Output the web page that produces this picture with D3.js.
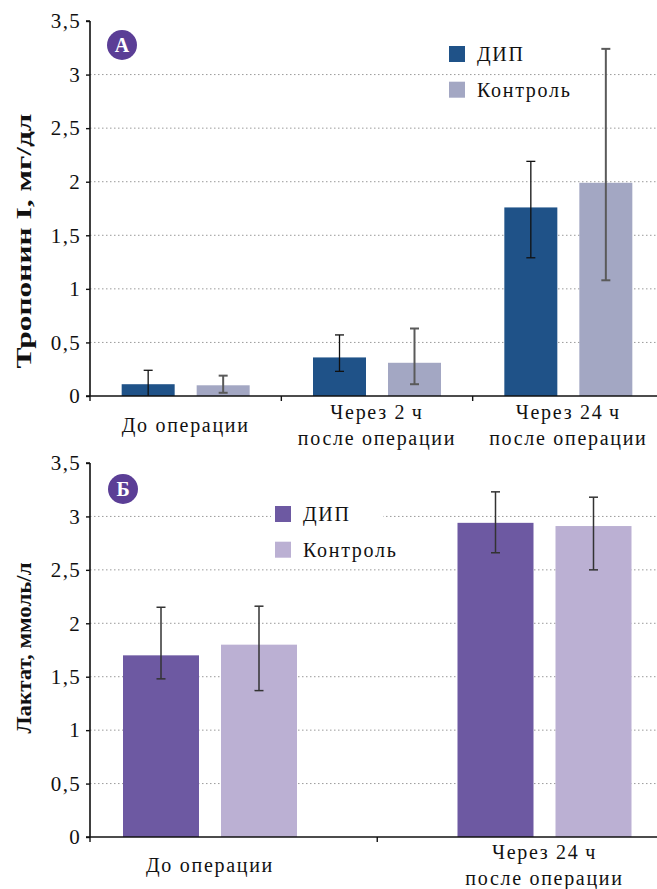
<!DOCTYPE html>
<html>
<head>
<meta charset="utf-8">
<script src="https://cdn.jsdelivr.net/npm/d3@7"></script>
<style>
  body { margin: 0; background: #fff; }
</style>
</head>
<body>
<svg id="chart" width="657" height="889"></svg>
<script>
// ---- data ----
const seriesNames = ["ДИП", "Контроль"];
const yTicks = [0, 0.5, 1, 1.5, 2, 2.5, 3, 3.5];

const troponinGroups = ["До операции", "Через 2\u2009ч|после операции", "Через 24\u2009ч|после операции"];
const troponinDip = [0.11, 0.36, 1.76];
const troponinDipLow = [0.0, 0.23, 1.29];
const troponinDipHigh = [0.24, 0.57, 2.19];
const troponinCtrl = [0.10, 0.31, 1.99];
const troponinCtrlLow = [0.03, 0.11, 1.08];
const troponinCtrlHigh = [0.19, 0.63, 3.24];

const lactateGroups = ["До операции", "Через 24\u2009ч|после операции"];
const lactateDip = [1.70, 2.94];
const lactateDipLow = [1.48, 2.66];
const lactateDipHigh = [2.15, 3.23];
const lactateCtrl = [1.80, 2.91];
const lactateCtrlLow = [1.37, 2.50];
const lactateCtrlHigh = [2.16, 3.18];

const SERIF = "'Liberation Serif', 'Times New Roman', serif";
const svg = d3.select("#chart");
const WIDTH = 657;
const fmt = (d) => String(d).replace(".", ",");

const drawPanel = (cfg) => {
  const { groups, dip, dipLow, dipHigh, ctrl, ctrlLow, ctrlHigh } = cfg;
  const g = svg.append("g");

  const y = d3.scaleLinear().domain([0, 3.5]).range([cfg.bottom, cfg.top]);
  const x0 = d3.scaleBand().domain(groups).range(cfg.xRange).paddingInner(0).paddingOuter(0);
  const x1 = d3
    .scaleBand()
    .domain(seriesNames)
    .range([-cfg.pairHalf, cfg.pairHalf])
    .paddingInner(cfg.innerPad);
  const center = (grp) => x0(grp) + x0.bandwidth() / 2;

  // gridlines
  g.append("g")
    .selectAll("line")
    .data(yTicks.filter((d) => d > 0 && d < 3.5))
    .join("line")
    .attr("x1", cfg.left)
    .attr("x2", WIDTH)
    .attr("y1", (d) => y(d))
    .attr("y2", (d) => y(d))
    .attr("stroke", "#9a9a9a")
    .attr("stroke-width", 1)
    .attr("stroke-dasharray", "1.5,2.5");

  // legend background (panel B hides the gridline behind it)
  if (cfg.legendBg) {
    g.append("rect")
      .attr("x", cfg.legendX - 4)
      .attr("y", cfg.legendY - 4)
      .attr("width", 112)
      .attr("height", 56)
      .attr("fill", "#fff");
  }

  const rows = groups.map((grp, i) => [
    { grp, s: seriesNames[0], v: dip[i], lo: dipLow[i], hi: dipHigh[i] },
    { grp, s: seriesNames[1], v: ctrl[i], lo: ctrlLow[i], hi: ctrlHigh[i] },
  ]).flat();

  // bars
  g.append("g")
    .selectAll("rect")
    .data(rows)
    .join("rect")
    .attr("x", (d) => center(d.grp) + x1(d.s))
    .attr("width", x1.bandwidth())
    .attr("y", (d) => y(d.v))
    .attr("height", (d) => y(0) - y(d.v))
    .attr("fill", (d) => cfg.colors[seriesNames.indexOf(d.s)]);

  // error bars
  const eb = g.append("g")
    .selectAll("g")
    .data(rows)
    .join("g")
    .attr("stroke", (d) => cfg.errColors[seriesNames.indexOf(d.s)])
    .attr("stroke-width", (d) => cfg.errWidths[seriesNames.indexOf(d.s)]);
  const cx = (d) => center(d.grp) + x1(d.s) + x1.bandwidth() / 2;
  eb.append("line")
    .attr("x1", cx).attr("x2", cx)
    .attr("y1", (d) => y(d.lo)).attr("y2", (d) => y(d.hi));
  eb.append("line")
    .attr("x1", (d) => cx(d) - 4.5).attr("x2", (d) => cx(d) + 4.5)
    .attr("y1", (d) => y(d.hi)).attr("y2", (d) => y(d.hi));
  eb.filter((d) => d.lo > 0.02)
    .append("line")
    .attr("x1", (d) => cx(d) - 4.5).attr("x2", (d) => cx(d) + 4.5)
    .attr("y1", (d) => y(d.lo)).attr("y2", (d) => y(d.lo));

  // y axis
  const yAxis = g.append("g")
    .attr("transform", `translate(${cfg.left},0)`)
    .call(d3.axisLeft(y).tickValues(yTicks).tickFormat(fmt).tickSize(4).tickPadding(5));
  yAxis.select(".domain").attr("stroke", "#111").attr("stroke-width", 1.6).attr("d", `M0,${cfg.bottom}V${cfg.top}M-4,${cfg.top}H0`);
  yAxis.selectAll(".tick line").attr("stroke", "#111").attr("stroke-width", 1.4);
  yAxis.selectAll(".tick text")
    .style("font-family", SERIF)
    .style("font-size", "21px")
    .style("letter-spacing", "1.3px")
    .attr("fill", "#111");

  // x axis line and ticks at band boundaries
  g.append("line")
    .attr("x1", cfg.left - 4).attr("x2", WIDTH)
    .attr("y1", y(0)).attr("y2", y(0))
    .attr("stroke", "#111").attr("stroke-width", 1.6);
  const tickXs = [cfg.left].concat(groups.slice(1).map((grp) => x0(grp)));
  g.append("g")
    .selectAll("line")
    .data(tickXs)
    .join("line")
    .attr("x1", (d) => d).attr("x2", (d) => d)
    .attr("y1", y(0)).attr("y2", y(0) + 5)
    .attr("stroke", "#111").attr("stroke-width", 1.4);

  // category labels
  const lab = g.append("g")
    .selectAll("text")
    .data(groups)
    .join("text")
    .attr("text-anchor", "middle")
    .style("font-family", SERIF)
    .style("font-size", "20px")
    .style("letter-spacing", "1.7px")
    .attr("fill", "#111")
    .attr("x", (d) => center(d))
    .attr("y", (d) => (d.includes("|") ? cfg.labelY2 : cfg.labelY1));
  lab.each(function (d) {
    const parts = d.split("|");
    parts.forEach((p, i) => {
      d3.select(this)
        .append("tspan")
        .attr("x", center(d))
        .attr("dy", i === 0 ? 0 : 25.5)
        .text(p);
    });
  });

  // y title
  g.append("text")
    .attr("transform", `translate(${cfg.titleX},${cfg.titleY}) rotate(-90)`)
    .attr("text-anchor", "middle")
    .attr("textLength", cfg.titleLen)
    .attr("lengthAdjust", "spacingAndGlyphs")
    .style("font-family", SERIF)
    .style("font-size", "22px")
    .style("font-weight", "bold")
    .attr("fill", "#111")
    .text(cfg.title);

  // badge
  g.append("circle")
    .attr("cx", cfg.badgeX).attr("cy", cfg.badgeY).attr("r", 15)
    .attr("fill", "#5b3e96");
  g.append("text")
    .attr("x", cfg.badgeX).attr("y", cfg.badgeY + 7)
    .attr("text-anchor", "middle")
    .style("font-family", SERIF)
    .style("font-size", "20px")
    .style("font-weight", "bold")
    .attr("fill", "#fff")
    .text(cfg.badge);

  // legend
  const leg = g.append("g")
    .selectAll("g")
    .data(seriesNames)
    .join("g")
    .attr("transform", (d, i) => `translate(${cfg.legendX},${cfg.legendY + i * 35.7})`);
  leg.append("rect").attr("width", 16).attr("height", 16)
    .attr("fill", (d, i) => cfg.colors[i]);
  leg.append("text")
    .attr("x", 28).attr("y", 15)
    .style("font-family", SERIF)
    .style("font-size", "20px")
    .style("letter-spacing", "1.7px")
    .attr("fill", "#111")
    .text((d) => d);
};

const stepA = (664 - 90) / 3;
drawPanel({
  groups: troponinGroups,
  dip: troponinDip, dipLow: troponinDipLow, dipHigh: troponinDipHigh,
  ctrl: troponinCtrl, ctrlLow: troponinCtrlLow, ctrlHigh: troponinCtrlHigh,
  top: 21, bottom: 396, left: 90,
  xRange: [90, 90 + 3 * stepA],
  pairHalf: 64, innerPad: 22 / 75,
  colors: ["#1f5288", "#a3a7c3"],
  errColors: ["#111", "#5a5a5a"],
  errWidths: [1.3, 2],
  labelY1: 432, labelY2: 419,
  title: "Тропонин I, мг/дл", titleX: 31, titleY: 241, titleLen: 255,
  badge: "А", badgeX: 122, badgeY: 45,
  legendX: 449, legendY: 46, legendBg: false,
});

const stepB = 334.5;
const centerB = 210;
drawPanel({
  groups: lactateGroups,
  dip: lactateDip, dipLow: lactateDipLow, dipHigh: lactateDipHigh,
  ctrl: lactateCtrl, ctrlLow: lactateCtrlLow, ctrlHigh: lactateCtrlHigh,
  top: 463, bottom: 837, left: 90,
  xRange: [centerB - stepB / 2, centerB + 1.5 * stepB],
  pairHalf: 87, innerPad: 22 / 98,
  colors: ["#6d59a2", "#bbb0d3"],
  errColors: ["#333", "#333"],
  errWidths: [1.5, 1.5],
  labelY1: 872, labelY2: 859,
  title: "Лактат, ммоль/л", titleX: 31, titleY: 648, titleLen: 171,
  badge: "Б", badgeX: 123, badgeY: 489,
  legendX: 275, legendY: 506, legendBg: true,
});
</script>
</body>
</html>
